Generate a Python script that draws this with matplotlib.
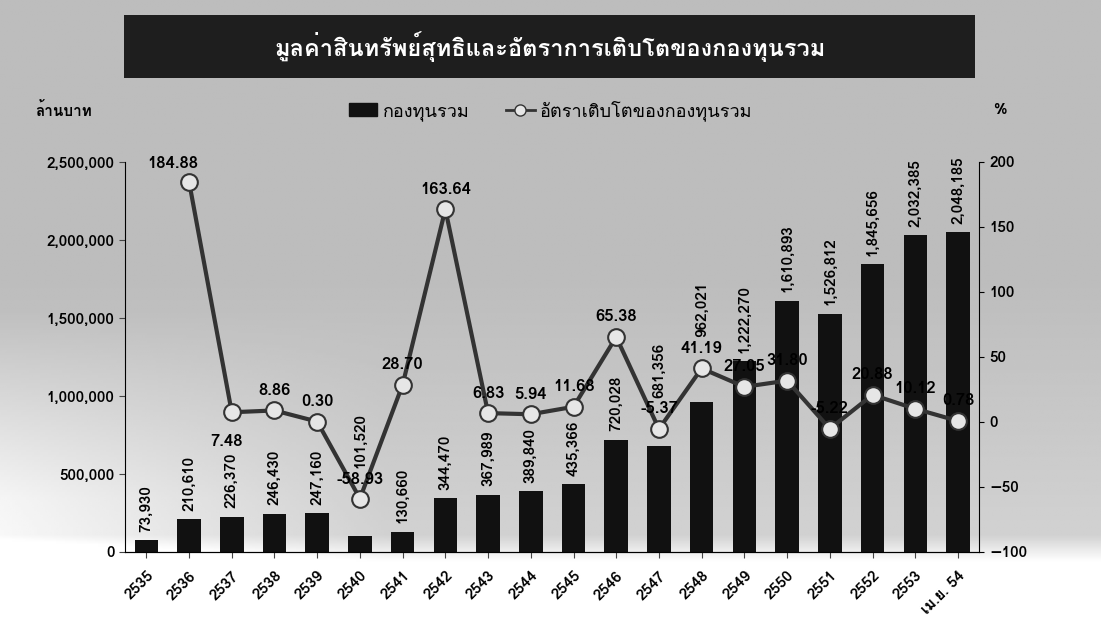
import numpy as np
import matplotlib
matplotlib.use("Agg")
import matplotlib.pyplot as plt
from matplotlib import font_manager
from matplotlib.ft2font import FT2Font
from matplotlib.ticker import FuncFormatter, MultipleLocator

# pick a font that can draw Thai, if one is installed
thai_font = None
for f in font_manager.fontManager.ttflist:
    try:
        if 0x0E01 in FT2Font(f.fname).get_charmap():
            thai_font = f.name
            break
    except Exception:
        pass
families = ([thai_font] if thai_font else []) + ["DejaVu Sans"]
plt.rcParams["font.family"] = families

years = ["2535", "2536", "2537", "2538", "2539", "2540", "2541", "2542", "2543", "2544",
         "2545", "2546", "2547", "2548", "2549", "2550", "2551", "2552", "2553", "เม.ย. 54"]
nav = [73930, 210610, 226370, 246430, 247160, 101520, 130660, 344470, 367989, 389840,
       435366, 720028, 681356, 962021, 1222270, 1610893, 1526812, 1845656, 2032385, 2048185]
growth_years = years[1:]
growth = [184.88, 7.48, 8.86, 0.30, -58.93, 28.70, 163.64, 6.83, 5.94, 11.68,
          65.38, -5.37, 41.19, 27.05, 31.80, -5.22, 20.88, 10.12, 0.78]

title = "มูลค่าสินทรัพย์สุทธิและอัตราการเติบโตของกองทุนรวม"
bar_name = "กองทุนรวม"
line_name = "อัตราเติบโตของกองทุนรวม"

fig = plt.figure(figsize=(11.01, 6.23), dpi=100)

# grey scanned-looking background (row 0 = top of figure)
bg = fig.add_axes([0, 0, 1, 1], zorder=-10)
yy, xx = np.mgrid[0:1:250j, 0:1:400j]
shade = 0.74 + 0.08 * np.clip((yy - 0.45) / 0.4, 0, 1)
shade += 0.15 * np.clip((yy - 0.5) / 0.3, 0, 1) * np.clip((0.35 - xx) / 0.35, 0, 1)
shade += 0.25 * np.clip((yy - 0.86) / 0.06, 0, 1)
bg.imshow(np.clip(shade, 0, 1), cmap="gray", vmin=0, vmax=1, aspect="auto",
          origin="upper", extent=[0, 1, 0, 1], interpolation="bilinear")
bg.axis("off")

# title box
fig.patches.append(plt.Rectangle((0.113, 0.875), 0.773, 0.101, transform=fig.transFigure,
                                 facecolor="#1e1e1e", edgecolor="none", zorder=1))
fig.text(0.5, 0.925, title, color="white", fontsize=17, fontweight="bold",
         ha="center", va="center")

ax = fig.add_axes([0.1135, 0.114, 0.776, 0.626])
ax.set_facecolor("none")
x = np.arange(len(years))
ax.bar(x, nav, width=0.55, color="#111111", zorder=2)
ax.set_xlim(-0.5, len(years) - 0.5)
ax.set_ylim(0, 2500000)
ax.yaxis.set_major_locator(MultipleLocator(500000))
ax.yaxis.set_major_formatter(FuncFormatter(lambda v, p: f"{int(v):,}"))
ax.set_xticks(x)
ax.set_xticklabels(years, rotation=45, ha="right", rotation_mode="anchor")
ax.tick_params(axis="x", pad=8)
for lab in ax.get_xticklabels() + ax.get_yticklabels():
    lab.set_fontsize(11)
    lab.set_fontweight("bold")
for s in ["top", "right"]:
    ax.spines[s].set_visible(False)
ax.tick_params(axis="both", length=4, color="#444444")
# some bar labels sit higher so they clear the growth labels (as in the original)
bar_lift = {5: 49, 12: 34, 13: 47}
for i, (xi, v) in enumerate(zip(x, nav)):
    ax.annotate(f"{v:,}", (xi, v), xytext=(0, bar_lift.get(i, 6)), textcoords="offset points",
                rotation=90, ha="center", va="bottom", fontsize=11, fontweight="bold", zorder=3)

ax2 = ax.twinx()
ax2.set_ylim(-100, 200)
ax2.yaxis.set_major_locator(MultipleLocator(50))
for s in ["top", "left"]:
    ax2.spines[s].set_visible(False)
gx = x[1:]
ax2.plot(gx, growth, color="#333333", lw=3, marker="o", markersize=12,
         markerfacecolor="#e6e6e6", markeredgecolor="#333333", markeredgewidth=1.5, zorder=4)
for lab in ax2.get_yticklabels():
    lab.set_fontsize(11)
    lab.set_fontweight("bold")
offsets = {1: (-4, -16), 0: (-12, 8), 4: (0, 8)}
for i, (xi, g) in enumerate(zip(gx, growth)):
    dx, dy = offsets.get(i, (0, 9))
    ax2.annotate(f"{g:.2f}", (xi, g), xytext=(dx, dy), textcoords="offset points",
                 ha="center", va="bottom" if dy > 0 else "top", fontsize=12, fontweight="bold", zorder=5)

fig.text(0.058, 0.823, "ล้านบาท", fontsize=11, fontweight="bold", ha="center", va="center")
fig.text(0.908, 0.823, "%", fontsize=11, fontweight="bold", ha="center", va="center")

bar_h = plt.Rectangle((0, 0), 1, 1, color="#111111")
line_h, = plt.plot([], [], color="#333333", lw=2, marker="o", markersize=8,
                   markerfacecolor="#e6e6e6", markeredgecolor="#333333")
fig.legend([bar_h, line_h], [bar_name, line_name], loc="center", bbox_to_anchor=(0.5, 0.823),
           ncol=2, frameon=False, fontsize=13, handlelength=1.6, columnspacing=2.0,
           handletextpad=0.3)

fig.savefig("out.png", dpi=100)
